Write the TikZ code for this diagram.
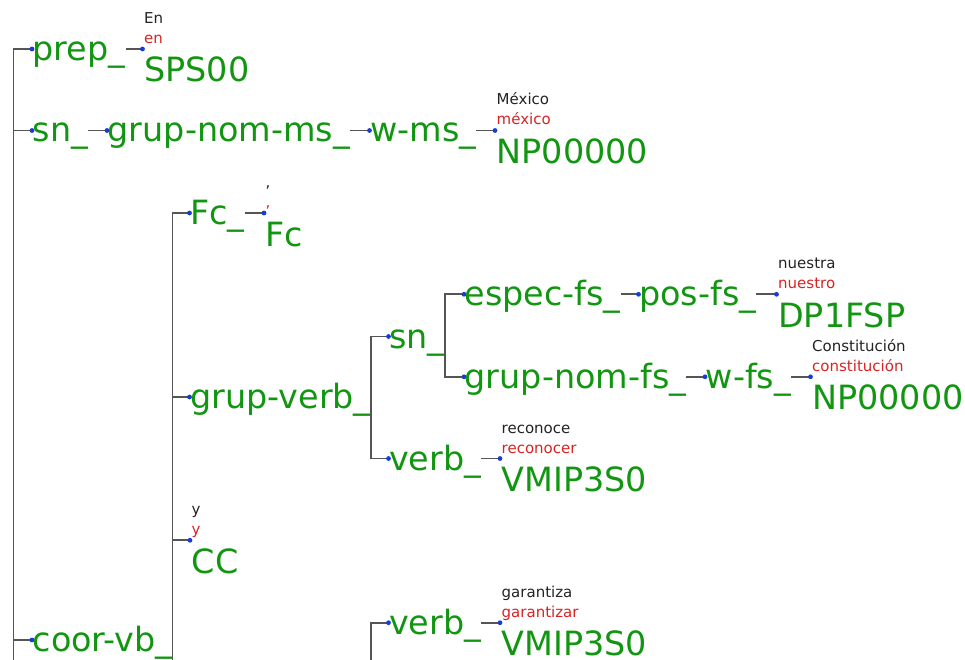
\documentclass[tikz,border=0pt]{standalone}
\usepackage{fontspec}
\setmainfont{DejaVu Sans}
\usetikzlibrary{backgrounds}

\definecolor{catgreen}{RGB}{18,150,18}
\definecolor{dotblue}{RGB}{25,60,215}
\definecolor{lemmared}{RGB}{215,35,35}
\definecolor{wordblack}{RGB}{35,35,35}
\definecolor{edgegray}{RGB}{85,85,85}

% internal constituent: blue dot (#1) at (#2,#3) with its category label (#1-l)
\newcommand\catnode[4]{%
  \node[dotmark] (#1) at (#2,#3) {};
  \node[catlabel] (#1-l) at (#2+0.5,#3+11.5) {#4};}
% terminal: blue dot, surface word, lemma and PoS tag
\newcommand\leafnode[6]{%
  \node[dotmark] (#1) at (#2,#3) {};
  \node[wordlabel] (#1-w) at (#2+1.5,#3-25.5) {#4};
  \node[lemmalabel] (#1-m) at (#2+1.5,#3-5.5) {#5};
  \node[catlabel] (#1-t) at (#2+1.5,#3+33) {#6};}

\begin{document}
\begin{tikzpicture}[x=1pt,y=-1pt,
  dotmark/.style={circle,fill=dotblue,inner sep=0pt,minimum size=4.8pt},
  catlabel/.style={font=\fontsize{33.4}{36}\selectfont,text=catgreen,inner sep=0pt,
    text depth=0pt,anchor=base west},
  wordlabel/.style={font=\fontsize{15}{17}\selectfont,text=wordblack,inner sep=0pt,anchor=base west},
  lemmalabel/.style={wordlabel,text=lemmared},
  edge/.style={draw=edgegray,line width=1.8pt},
]
\useasboundingbox (0,0) rectangle (965,660);
\clip (0,0) rectangle (965,660);

% top level constituents
\catnode{prep}{32}{49}{prep\_}
\leafnode{en}{142.5}{49}{En}{en}{SPS00}
\catnode{snA}{32}{130.5}{sn\_}
\catnode{gnms}{107}{130.5}{grup-nom-ms\_}
\catnode{wms}{369.5}{130.5}{w-ms\_}
\leafnode{mex}{495}{130.5}{México}{méxico}{NP00000}
\catnode{coor}{32}{640}{coor-vb\_}

% coordinated verb group
\catnode{fc}{189.5}{213}{Fc\_}
\leafnode{comma}{264}{213}{,}{,}{Fc}
\catnode{gv}{189.5}{397}{grup-verb\_}
\catnode{snB}{388.5}{336.5}{sn\_}
\catnode{espec}{464}{294.3}{espec-fs\_}
\catnode{pos}{638.5}{294.3}{pos-fs\_}
\leafnode{nuestra}{776.5}{294.3}{nuestra}{nuestro}{DP1FSP}
\catnode{gnfs}{464}{376.8}{grup-nom-fs\_}
\catnode{wfs}{705}{376.8}{w-fs\_}
\leafnode{const}{810.5}{376.8}{Constitución}{constitución}{NP00000}
\catnode{verbA}{388.5}{458.5}{verb\_}
\leafnode{reconoce}{500}{458.5}{reconoce}{reconocer}{VMIP3S0}
\leafnode{conj}{190}{540.3}{y}{y}{CC}
\catnode{verbB}{388.5}{622.7}{verb\_}
\leafnode{garantiza}{500}{622.7}{garantiza}{garantizar}{VMIP3S0}

% spines that run on past the lower edge
\coordinate (rootspine) at (13.5,720);
\coordinate (gvlow) at (371,720);

\begin{scope}[on background layer]
  % root spine
  \draw[edge] (prep.center) -| (rootspine);
  \draw[edge] (snA.center) -- (snA.center -| rootspine);
  \draw[edge] (coor.center) -- (coor.center -| rootspine);
  % single-child links
  \draw[edge] (prep-l.east |- prep) -- (en.center);
  \draw[edge] (snA-l.east |- snA) -- (gnms.center);
  \draw[edge] (gnms-l.east |- gnms) -- (wms.center);
  \draw[edge] (wms-l.east |- wms) -- (mex.center);
  \draw[edge] (fc-l.east |- fc) -- (comma.center);
  \draw[edge] (espec-l.east |- espec) -- (pos.center);
  \draw[edge] (pos-l.east |- pos) -- (nuestra.center);
  \draw[edge] (gnfs-l.east |- gnfs) -- (wfs.center);
  \draw[edge] (wfs-l.east |- wfs) -- (const.center);
  \draw[edge] (verbA-l.east |- verbA) -- (reconoce.center);
  \draw[edge] (verbB-l.east |- verbB) -- (garantiza.center);
  % branching spines
  \draw[edge] (fc.center) -| ([yshift=-80pt]coor-l.east);
  \draw[edge] (gv.center) -- (gv.center -| coor-l.east);
  \draw[edge] (conj.center) -- (conj.center -| coor-l.east);
  \draw[edge] (snB.center) -| (gv-l.east) |- (verbA.center);
  \draw[edge] (espec.center) -| (snB-l.east) |- (gnfs.center);
  \draw[edge] (verbB.center) -| (gvlow);
\end{scope}
\end{tikzpicture}
\end{document}
